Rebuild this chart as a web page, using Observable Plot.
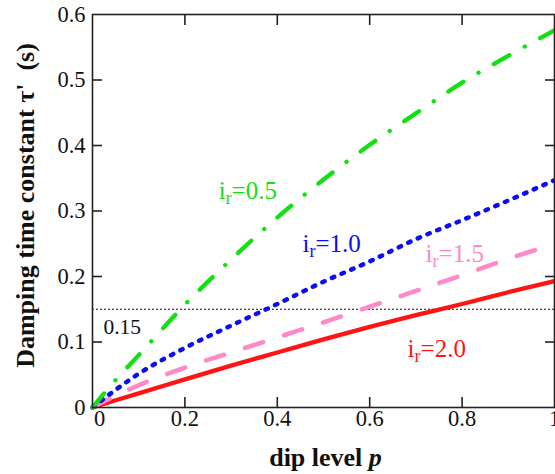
<!DOCTYPE html>
<html><head><meta charset="utf-8">
<script src="https://cdn.jsdelivr.net/npm/d3@7"></script>
<script src="https://cdn.jsdelivr.net/npm/@observablehq/plot@0.6"></script>
<style>html,body{margin:0;padding:0;background:#fff;overflow:hidden}</style>
</head><body><div id="chart"></div>
<script>
// dip level p
const p      = [0, 0.05, 0.1, 0.2, 0.3, 0.4, 0.5, 0.6, 0.7, 0.8, 0.9, 1.0];
// damping time constant tau' (s) for each i_r
const tau05  = [0, 0.042, 0.080, 0.157, 0.226, 0.290, 0.348, 0.401, 0.449, 0.496, 0.537, 0.576];
const tau10  = [0, 0.027, 0.0515, 0.091, 0.125, 0.158, 0.192, 0.223, 0.257, 0.286, 0.316, 0.347];
const tau15  = [0, 0.018, 0.034, 0.061, 0.084, 0.107, 0.130, 0.154, 0.178, 0.202, 0.227, 0.250];
const tau20  = [0, 0.011, 0.0215, 0.043, 0.064, 0.084, 0.104, 0.123, 0.141, 0.158, 0.176, 0.193];
const seriesNames = ["i_r=0.5", "i_r=1.0", "i_r=1.5", "i_r=2.0"];
const labelP   = [0.273, 0.4545, 0.721, 0.682];
const labelTau = [0.331, 0.249, 0.2336, 0.090];
const refLevel = [0.15];
const refLabel = ["0.15"];
const xTicks = [0, 0.2, 0.4, 0.6, 0.8, 1];
const xTickLabels = ["0", "0.2", "0.4", "0.6", "0.8", "1"];
const yTicks = [0, 0.1, 0.2, 0.3, 0.4, 0.5, 0.6];
const yTickLabels = ["0", "0.1", "0.2", "0.3", "0.4", "0.5", "0.6"];
const xTitle = "dip level p";
const yTitle = "Damping time constant τ'\u00a0\u00a0(s)";

const toRows = vals => p.map((x, i) => ({p: x, tau: vals[i]}));
const colors = ["#11e011", "#0c0cf0", "#ff88c6", "#ff1414"];
const font = "'Liberation Serif', 'Times New Roman', serif";
const inner = [0.2, 0.4, 0.6, 0.8];
const innerY = [0.1, 0.2, 0.3, 0.4, 0.5];
const axStroke = "#222";
const tickFont = 22.5;

const chart = Plot.plot({
  width: 555, height: 474,
  marginLeft: 92, marginRight: 1, marginTop: 14, marginBottom: 67,
  x: {domain: [0, 1]},
  y: {domain: [0, 0.6]},
  style: {fontFamily: font, background: "white", color: "#111"},
  marks: [
    Plot.ruleY(refLevel, {stroke: "#111", strokeWidth: 1, strokeDasharray: "2,2"}),
    Plot.text(refLabel, {x: [0.0238], y: [0.123], text: d => d, textAnchor: "start", lineAnchor: "middle", fontSize: 21.5, fill: "#111"}),
    Plot.line(toRows(tau20), {x: "p", y: "tau", stroke: colors[3], strokeWidth: 4.3, curve: "monotone-x"}),
    Plot.line(toRows(tau15), {x: "p", y: "tau", stroke: colors[2], strokeWidth: 4.5, strokeDasharray: "19,22", strokeLinecap: "round", curve: "monotone-x"}),
    Plot.line(toRows(tau10), {x: "p", y: "tau", stroke: colors[1], strokeWidth: 4.5, strokeDasharray: "2.5,8", strokeLinecap: "round", curve: "monotone-x"}),
    Plot.line(toRows(tau05), {x: "p", y: "tau", stroke: colors[0], strokeWidth: 4.3, strokeDasharray: "18,17.5,0.1,17.5", strokeLinecap: "round", curve: "monotone-x"}),
    Plot.text(seriesNames, {x: (d, i) => labelP[i], y: (d, i) => labelTau[i], text: d => d, fill: (d, i) => colors[i], textAnchor: "start", lineAnchor: "middle", fontSize: 25}),
    Plot.frame({stroke: axStroke, strokeWidth: 1.6}),
    Plot.axisX({anchor: "bottom", ticks: inner, tickSize: 10, dy: -10, tickFormat: () => "", label: null, stroke: axStroke, strokeWidth: 1.6}),
    Plot.axisX({anchor: "top", ticks: inner, tickSize: 10, dy: 10, tickFormat: () => "", label: null, stroke: axStroke, strokeWidth: 1.6}),
    Plot.axisY({anchor: "left", ticks: innerY, tickSize: 10, dx: 10, tickFormat: () => "", label: null, stroke: axStroke, strokeWidth: 1.6}),
    Plot.axisY({anchor: "right", ticks: innerY, tickSize: 10, dx: -10, tickFormat: () => "", label: null, stroke: axStroke, strokeWidth: 1.6}),
    Plot.text(xTicks.slice(1), {x: d => d, frameAnchor: "bottom", lineAnchor: "middle", textAnchor: "middle", dy: 11.5, text: (d, i) => xTickLabels[i + 1], fontSize: tickFont, fill: "#111"}),
    Plot.text(xTicks.slice(0, 1), {x: d => d, frameAnchor: "bottom", lineAnchor: "middle", textAnchor: "middle", dy: 11.5, dx: 7, text: (d, i) => xTickLabels[i], fontSize: tickFont, fill: "#111"}),
    Plot.text(yTicks, {y: d => d, frameAnchor: "left", lineAnchor: "middle", dx: -7, textAnchor: "end", text: (d, i) => yTickLabels[i], fontSize: tickFont, fill: "#111"}),
    Plot.text([xTitle], {frameAnchor: "bottom", lineAnchor: "middle", textAnchor: "middle", dy: 49.7, dx: 2, text: d => d, fontSize: 26, fontWeight: "bold", fill: "#111"}),
    Plot.text([yTitle], {frameAnchor: "left", lineAnchor: "middle", textAnchor: "middle", rotate: -90, dx: -67, dy: -5.5, text: d => d, fontSize: 26, fontWeight: "bold", fill: "#111"})
  ]
});

const ns = "http://www.w3.org/2000/svg";
chart.querySelectorAll("text").forEach(t => {
  const s = t.textContent;
  if (s.startsWith("i_r=")) {
    t.textContent = "";
    const a = document.createElementNS(ns, "tspan"); a.textContent = "i";
    const b = document.createElementNS(ns, "tspan"); b.textContent = "r";
    b.setAttribute("dy", "5"); b.setAttribute("font-size", "18");
    const c = document.createElementNS(ns, "tspan"); c.textContent = "=" + s.slice(4);
    c.setAttribute("dy", "-5");
    t.append(a, b, c);
  } else if (s === xTitle) {
    t.textContent = "";
    const a = document.createElementNS(ns, "tspan"); a.textContent = "dip level ";
    const b = document.createElementNS(ns, "tspan"); b.textContent = "p";
    b.setAttribute("font-style", "italic");
    t.append(a, b);
  }
});
document.getElementById("chart").appendChild(chart);
</script>
</body></html>
